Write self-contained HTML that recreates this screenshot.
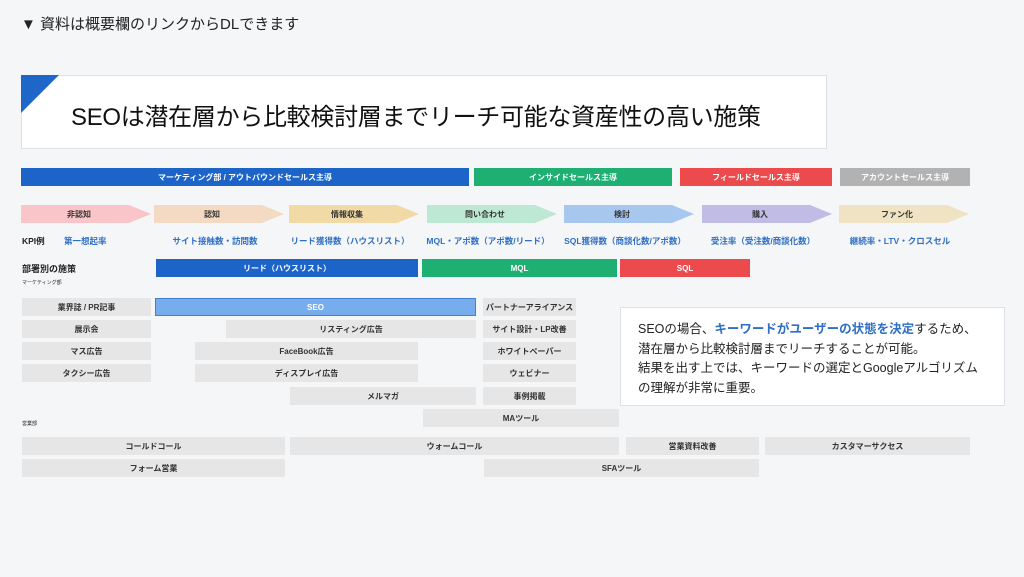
<!DOCTYPE html>
<html><head><meta charset="utf-8"><style>
*{margin:0;padding:0;box-sizing:border-box}
body{width:1024px;height:577px;background:#f5f6f8;position:relative;overflow:hidden;font-family:"Liberation Sans","Noto Sans CJK JP",sans-serif;color:#222}
.a{position:absolute}
.b{position:absolute;display:flex;align-items:center;justify-content:center;font-size:8px;font-weight:bold;height:18px;white-space:nowrap}
.g{background:#e6e6e6;color:#333}
.w{color:#fff}
.ar{position:absolute;height:18px;width:130px;clip-path:polygon(0 0,108px 0,130px 50%,108px 100%,0 100%);display:flex;align-items:center;justify-content:center;padding-right:14px;font-size:8px;font-weight:bold;color:#333}
.k{position:absolute;top:235px;font-size:8.5px;font-weight:bold;color:#2f6fc4;width:150px;margin-left:-14px;text-align:center;white-space:nowrap}
</style></head><body>
<div class="a" style="left:21px;top:13px;font-size:15px;color:#222">▼ 資料は概要欄のリンクからDLできます</div>
<div class="a" style="left:21px;top:75px;width:806px;height:74px;background:#fff;border:1px solid #dde0e4"></div>
<div class="a" style="left:21px;top:75px;width:0;height:0;border-top:38px solid #1f66c9;border-right:38px solid transparent"></div>
<div class="a" style="left:71px;top:97px;font-size:24px;font-weight:normal;color:#111;letter-spacing:-0.3px">SEOは潜在層から比較検討層までリーチ可能な資産性の高い施策</div>

<div class="b w" style="left:21px;top:168px;width:448px;background:#1d64c8">マーケティング部 / アウトバウンドセールス主導</div>
<div class="b w" style="left:474px;top:168px;width:198px;background:#1eb073">インサイドセールス主導</div>
<div class="b w" style="left:680px;top:168px;width:152px;background:#ec4a4d">フィールドセールス主導</div>
<div class="b w" style="left:840px;top:168px;width:130px;background:#b2b2b2">アカウントセールス主導</div>

<div class="ar" style="left:21px;top:205px;background:#f9c5c8">非認知</div>
<div class="ar" style="left:154px;top:205px;background:#f4d9c3">認知</div>
<div class="ar" style="left:289px;top:205px;background:#f2daa6">情報収集</div>
<div class="ar" style="left:427px;top:205px;background:#bde8d3">問い合わせ</div>
<div class="ar" style="left:564px;top:205px;background:#a8c7ee">検討</div>
<div class="ar" style="left:702px;top:205px;background:#c0bce6">購入</div>
<div class="ar" style="left:839px;top:205px;background:#efe3c3">ファン化</div>

<div class="a" style="left:22px;top:235px;font-size:8.5px;font-weight:bold">KPI例</div>
<div class="a" style="left:64px;top:235px;font-size:8.5px;font-weight:bold;color:#2f6fc4">第一想起率</div>
<div class="k" style="left:154px">サイト接触数・訪問数</div>
<div class="k" style="left:289px">リード獲得数（ハウスリスト）</div>
<div class="k" style="left:427px">MQL・アポ数（アポ数/リード）</div>
<div class="k" style="left:564px">SQL獲得数（商談化数/アポ数）</div>
<div class="k" style="left:702px">受注率（受注数/商談化数）</div>
<div class="k" style="left:839px">継続率・LTV・クロスセル</div>

<div class="a" style="left:22px;top:262px;font-size:9px;font-weight:bold">部署別の施策</div>
<div class="a" style="left:22px;top:279px;font-size:5px">マーケティング部</div>
<div class="b w" style="left:156px;top:259px;width:262px;background:#1d64c8">リード（ハウスリスト）</div>
<div class="b w" style="left:422px;top:259px;width:195px;background:#1eb073">MQL</div>
<div class="b w" style="left:620px;top:259px;width:130px;background:#ec4a4d">SQL</div>

<div class="b g" style="left:22px;top:298px;width:129px">業界誌 / PR記事</div>
<div class="b w" style="left:155px;top:298px;width:321px;background:#78aded;border:1px solid #3f7fd4">SEO</div>
<div class="b g" style="left:483px;top:298px;width:93px">パートナーアライアンス</div>
<div class="b g" style="left:22px;top:320px;width:129px">展示会</div>
<div class="b g" style="left:226px;top:320px;width:250px">リスティング広告</div>
<div class="b g" style="left:483px;top:320px;width:93px">サイト設計・LP改善</div>
<div class="b g" style="left:22px;top:342px;width:129px">マス広告</div>
<div class="b g" style="left:195px;top:342px;width:223px">FaceBook広告</div>
<div class="b g" style="left:483px;top:342px;width:93px">ホワイトペーパー</div>
<div class="b g" style="left:22px;top:364px;width:129px">タクシー広告</div>
<div class="b g" style="left:195px;top:364px;width:223px">ディスプレイ広告</div>
<div class="b g" style="left:483px;top:364px;width:93px">ウェビナー</div>
<div class="b g" style="left:290px;top:387px;width:186px">メルマガ</div>
<div class="b g" style="left:483px;top:387px;width:93px">事例掲載</div>
<div class="b g" style="left:423px;top:409px;width:196px">MAツール</div>
<div class="a" style="left:22px;top:420px;font-size:5px">営業部</div>
<div class="b g" style="left:22px;top:437px;width:263px">コールドコール</div>
<div class="b g" style="left:290px;top:437px;width:329px">ウォームコール</div>
<div class="b g" style="left:626px;top:437px;width:133px">営業資料改善</div>
<div class="b g" style="left:765px;top:437px;width:205px">カスタマーサクセス</div>
<div class="b g" style="left:22px;top:459px;width:263px">フォーム営業</div>
<div class="b g" style="left:484px;top:459px;width:275px">SFAツール</div>

<div class="a" style="left:620px;top:307px;width:385px;height:99px;background:#fff;border:1px solid #dde0e4;padding:12px 0 0 17px;font-size:12.5px;line-height:19.5px;color:#222;white-space:nowrap">SEOの場合、<b style="color:#2f6fc4">キーワードがユーザーの状態を決定</b>するため、<br>潜在層から比較検討層までリーチすることが可能。<br>結果を出す上では、キーワードの選定とGoogleアルゴリズム<br>の理解が非常に重要。</div>
</body></html>
